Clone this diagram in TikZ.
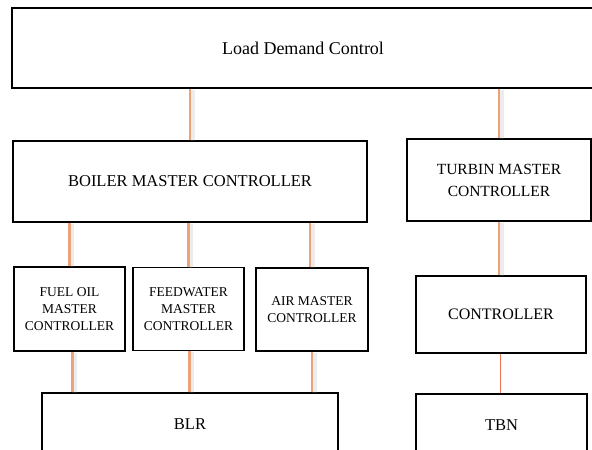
\documentclass[tikz,border=0pt]{standalone}
\usepackage{fontspec}
\setmainfont{Liberation Serif}
\definecolor{linkorange}{RGB}{236,163,122}
\definecolor{linkshade}{RGB}{150,150,150}
\begin{document}
\begin{tikzpicture}[x=1pt,y=-1pt]
        \tikzset{box/.style={draw, line width=1.4pt, align=center, inner sep=0pt},
                 link/.style={draw=linkorange, line width=2.4pt,
                   preaction={draw=linkshade, opacity=0.18, line width=5pt, transform canvas={xshift=2pt,yshift=-1pt}}}}
        \useasboundingbox (0,0) rectangle (592,450);
        \node[box, minimum width=582pt, minimum height=80pt, font=\fontsize{18}{22}\selectfont] (ldc) at (303,48) {Load Demand Control};
        \node[box, minimum width=354pt, minimum height=81pt, font=\fontsize{16.5}{20}\selectfont] (bmc) at (190,181.5) {BOILER MASTER CONTROLLER};
        \node[box, minimum width=184pt, minimum height=82pt, font=\fontsize{15.5}{22}\selectfont] (tmc) at (499,180) {TURBIN MASTER\\CONTROLLER};
        \node[box, minimum width=111pt, minimum height=84pt, font=\fontsize{13.5}{17}\selectfont] (fomc) at (69.5,309) {FUEL OIL\\MASTER\\CONTROLLER};
        \node[box, minimum width=111pt, minimum height=83pt, font=\fontsize{13.5}{17}\selectfont] (fwmc) at (188.5,309) {FEEDWATER\\MASTER\\CONTROLLER};
        \node[box, minimum width=112pt, minimum height=83pt, font=\fontsize{13.5}{17}\selectfont] (amc) at (312,309.5) {AIR MASTER\\CONTROLLER};
        \node[box, minimum width=170pt, minimum height=77pt, font=\fontsize{16}{20}\selectfont] (ctrl) at (501,314.5) {CONTROLLER};
        \node[box, minimum width=296pt, minimum height=62pt, font=\fontsize{16.5}{20}\selectfont] (blr) at (190,424) {BLR};
        \node[box, minimum width=171pt, minimum height=62pt, font=\fontsize{16.5}{20}\selectfont] (tbn) at (501.5,425) {TBN};
        % links between the levels
        \draw[link] (ldc.south -| bmc) -- (bmc.north);
        \draw[link] (ldc.south -| tmc) -- (tmc.north);
        \draw[link] (bmc.south -| fomc) -- (fomc.north);
        \draw[link] (bmc.south -| fwmc) -- (fwmc.north);
        \draw[link] ([xshift=-2pt]bmc.south -| amc) -- ([xshift=-2pt]amc.north);
        \draw[link] ([xshift=3pt]fomc.south) -- ([xshift=3pt]blr.north -| fomc);
        \draw[link] ([xshift=1pt]fwmc.south) -- ([xshift=1pt]blr.north -| fwmc);
        \draw[link] (amc.south) -- (blr.north -| amc);
        \draw[link] (tmc.south) -- (ctrl.north -| tmc);
        \draw[draw=linkorange!70!red, line width=1pt] ([xshift=-0.5pt]ctrl.south) -- ([xshift=-0.5pt]tbn.north -| ctrl);
\end{tikzpicture}
\end{document}
